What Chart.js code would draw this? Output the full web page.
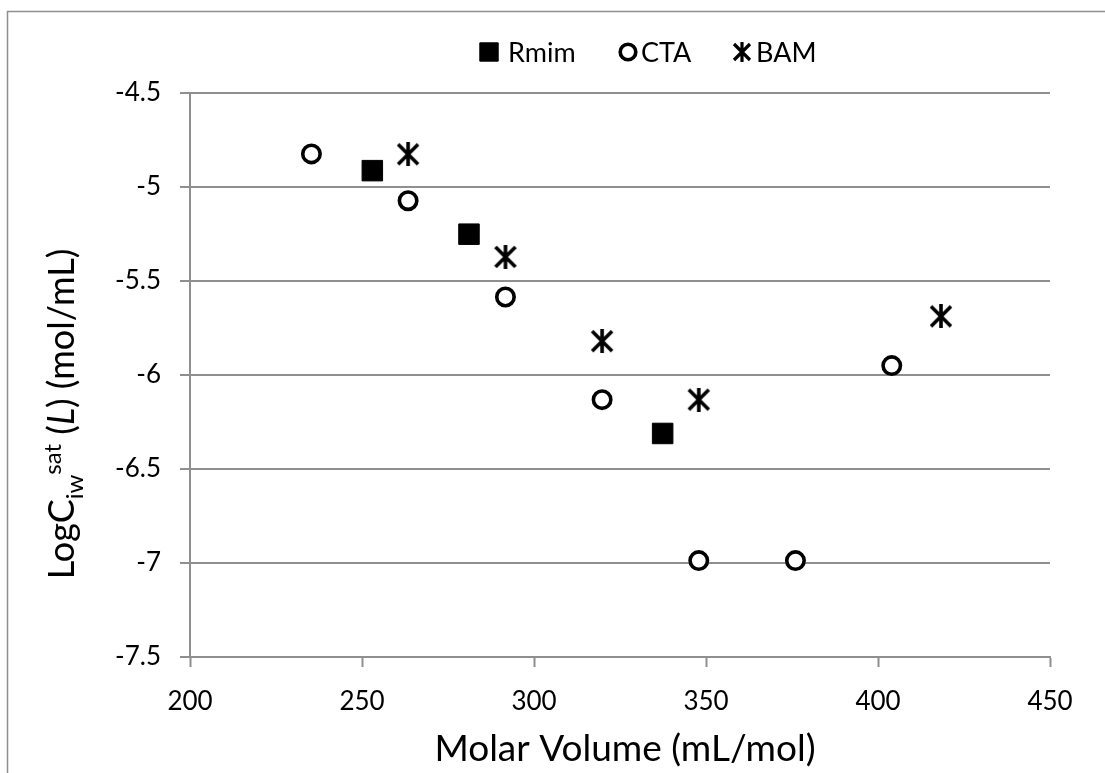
<!DOCTYPE html>
<html>
<head>
<meta charset="utf-8">
<script src="https://cdn.jsdelivr.net/npm/chart.js@4.4.1/dist/chart.umd.min.js"></script>
<style>
  html, body { margin: 0; padding: 0; background: #fff; }
  #wrap { width: 1105px; height: 773px; position: relative; }
</style>
</head>
<body>
<div id="wrap"><canvas id="chart"></canvas></div>
<script>
// values
var rmimX = [253.0, 281.1, 337.4];
var rmimY = [-4.913, -5.251, -6.311];

var ctaX = [235.3, 263.4, 291.7, 319.8, 347.9, 376.0, 404.0];
var ctaY = [-4.824, -5.073, -5.585, -6.131, -6.987, -6.987, -5.95];

var bamX = [263.4, 291.7, 319.8, 347.9, 418.3];
var bamY = [-4.826, -5.372, -5.82, -6.131, -5.688];

var seriesNames = ["Rmim", "CTA", "BAM"];
var xTitle = "Molar Volume (mL/mol)";

var FONT = "Lato, 'Open Sans', 'Liberation Sans', sans-serif";
var GRID = "#8f8f8f";

function toPoints(xs, ys) {
    var pts = [];
    for (var i = 0; i < xs.length; i++) {
        pts.push({ x: xs[i], y: ys[i] });
    }
    return pts;
}

// Excel style asterisk marker: vertical bar plus an X
function makeStar(size, lw) {
    var c = document.createElement("canvas");
    c.width = size;
    c.height = size;
    var g = c.getContext("2d");
    g.strokeStyle = "#000";
    g.lineWidth = lw;
    g.lineCap = "butt";
    var m = size / 2, e = 2;
    g.beginPath();
    g.moveTo(m, 0);
    g.lineTo(m, size);
    g.moveTo(e, e);
    g.lineTo(size - e, size - e);
    g.moveTo(size - e, e);
    g.lineTo(e, size - e);
    g.stroke();
    return c;
}
var starImg = makeStar(24, 3.6);
var starSmall = makeStar(20, 3.2);

// frame round the whole chart (right / bottom edges fall outside the picture)
var framePlugin = {
    id: "frame",
    beforeDraw: function (chart) {
        var ctx = chart.ctx;
        ctx.save();
        ctx.strokeStyle = GRID;
        ctx.lineWidth = 1.5;
        ctx.beginPath();
        ctx.moveTo(7.5, chart.height + 5);
        ctx.lineTo(7.5, 11.5);
        ctx.lineTo(chart.width + 5, 11.5);
        ctx.stroke();
        ctx.restore();
    }
};

// axis titles (y title needs sub / superscript so it's drawn by hand)
var titlesPlugin = {
    id: "titles",
    afterDraw: function (chart) {
        var ctx = chart.ctx;
        ctx.save();
        ctx.fillStyle = "#000";

        // x title
        ctx.font = "37px " + FONT;
        ctx.textAlign = "center";
        ctx.textBaseline = "alphabetic";
        ctx.fillText(xTitle, 625, 761);

        // y title
        var big = "36px " + FONT;
        var small = "24px " + FONT;
        var parts = [
            { t: "LogC", f: big, dy: 0 },
            { t: "iw", f: small, dy: 9 },
            { t: "sat", f: small, dy: -13 },
            { t: " (", f: big, dy: 0 },
            { t: "L", f: "italic " + big, dy: 0 },
            { t: ") (mol/mL)", f: big, dy: 0 }
        ];
        var total = 0;
        parts.forEach(function (p) {
            ctx.font = p.f;
            p.w = ctx.measureText(p.t).width;
            total += p.w;
        });
        ctx.translate(74, 414);
        ctx.rotate(-Math.PI / 2);
        ctx.textAlign = "left";
        var x = -total / 2;
        parts.forEach(function (p) {
            ctx.font = p.f;
            ctx.fillText(p.t, x, p.dy);
            x += p.w;
        });
        ctx.restore();
    }
};

// legend drawn by hand so it can sit where the reference has it
var legendPlugin = {
    id: "topLegend",
    afterDraw: function (chart) {
        var ctx = chart.ctx;
        var markX = [489, 628, 742];
        var textX = [508, 641, 756];
        var y = 52;
        ctx.save();
        ctx.font = "27px " + FONT;
        ctx.fillStyle = "#000";
        ctx.textBaseline = "middle";
        ctx.textAlign = "left";
        chart.data.datasets.forEach(function (ds, i) {
            var style = i == 2 ? starSmall : ds.pointStyle;
            var opts = {
                pointStyle: style,
                radius: i == 0 ? 13 : 7.8,
                rotation: 0,
                borderWidth: ds.borderWidth
            };
            ctx.save();
            ctx.fillStyle = ds.backgroundColor;
            ctx.strokeStyle = ds.borderColor;
            ctx.lineWidth = ds.borderWidth;
            Chart.helpers.drawPoint(ctx, opts, markX[i], y);
            ctx.restore();
            ctx.fillText(ds.label, textX[i], y + 1);
        });
        ctx.restore();
    }
};

new Chart(document.getElementById("chart"), {
    type: "scatter",
    data: {
        datasets: [
            {
                label: seriesNames[0],
                data: toPoints(rmimX, rmimY),
                pointStyle: "rect",
                pointRadius: 14.5,
                pointHoverRadius: 14.5,
                backgroundColor: "#000",
                borderColor: "#000",
                borderWidth: 1
            },
            {
                label: seriesNames[1],
                data: toPoints(ctaX, ctaY),
                pointStyle: "circle",
                pointRadius: 8.7,
                pointHoverRadius: 8.7,
                backgroundColor: "#fff",
                borderColor: "#000",
                borderWidth: 3.6
            },
            {
                label: seriesNames[2],
                data: toPoints(bamX, bamY),
                pointStyle: starImg,
                pointRadius: 12,
                pointHoverRadius: 12,
                backgroundColor: "#000",
                borderColor: "#000",
                borderWidth: 1
            }
        ]
    },
    options: {
        responsive: true,
        maintainAspectRatio: false,
        animation: false,
        layout: {
            padding: { top: 93, right: 55, left: 0, bottom: 0 }
        },
        plugins: {
            legend: { display: false },
            title: { display: false },
            tooltip: { enabled: false }
        },
        scales: {
            x: {
                type: "linear",
                min: 200,
                max: 450,
                afterFit: function (scale) { scale.height = 116; },
                ticks: {
                    stepSize: 50,
                    padding: 19,
                    color: "#000",
                    font: { family: FONT, size: 26 }
                },
                grid: {
                    drawOnChartArea: false,
                    drawTicks: true,
                    tickLength: 10,
                    tickColor: GRID,
                    tickWidth: 2
                },
                border: { display: true, color: GRID, width: 2 }
            },
            y: {
                type: "linear",
                min: -7.5,
                max: -4.5,
                afterFit: function (scale) { scale.width = 190; },
                ticks: {
                    stepSize: 0.5,
                    padding: 19,
                    color: "#000",
                    font: { family: FONT, size: 26 },
                    callback: function (v) { return String(v); }
                },
                grid: {
                    color: GRID,
                    lineWidth: 2,
                    drawTicks: true,
                    tickLength: 10,
                    tickColor: GRID,
                    tickWidth: 2
                },
                border: { display: true, color: GRID, width: 2 }
            }
        }
    },
    plugins: [framePlugin, titlesPlugin, legendPlugin]
});
</script>
</body>
</html>
